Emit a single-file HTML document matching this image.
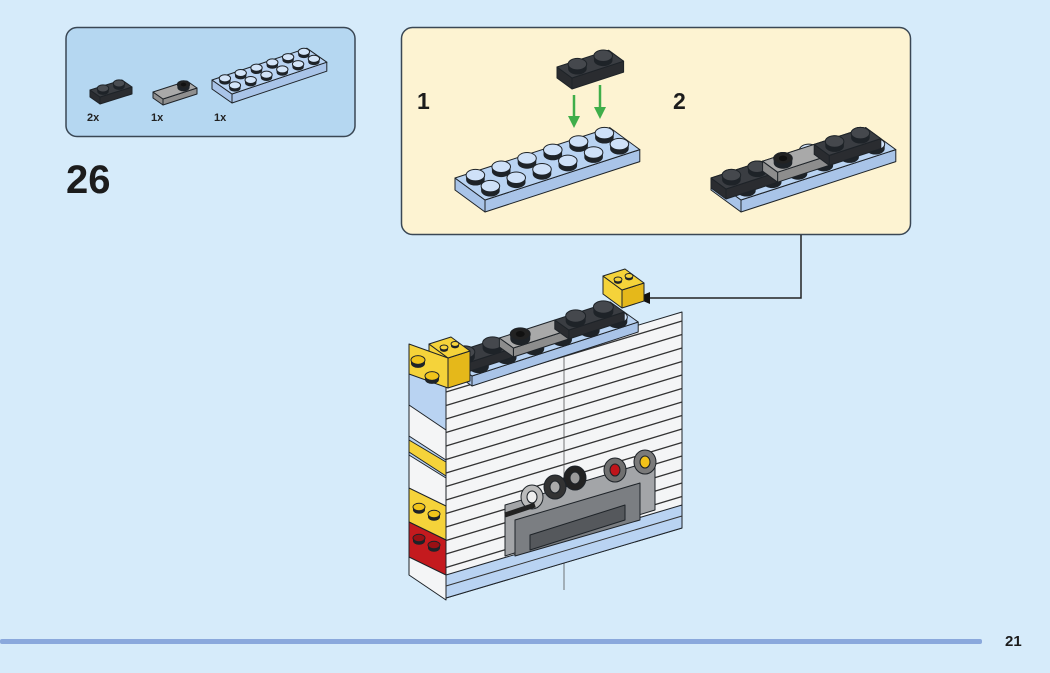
<!DOCTYPE html>
<html><head><meta charset="utf-8"><style>
html,body{margin:0;padding:0;background:#d6ebfa;}
body{width:1050px;height:673px;overflow:hidden;position:relative;font-family:"Liberation Sans",sans-serif;}
svg{position:absolute;left:0;top:0}
</style></head><body>
<svg id="s" width="1050" height="673" viewBox="0 0 1050 673" xmlns="http://www.w3.org/2000/svg">
<rect x="0" y="0" width="1050" height="673" fill="#d6ebfa"/>
<rect x="66" y="27.5" width="289" height="109" rx="11" fill="#b5d7f1" stroke="#3a4754" stroke-width="1.5"/>
<text x="87" y="121" font-size="11" font-weight="bold" fill="#222">2x</text>
<text x="151" y="121" font-size="11" font-weight="bold" fill="#222">1x</text>
<text x="214" y="121" font-size="11" font-weight="bold" fill="#222">1x</text>
<text x="66" y="193" font-size="40" font-weight="bold" fill="#1c1c1c">26</text>
<rect x="401.5" y="27.5" width="509" height="207" rx="11" fill="#fdf3d2" stroke="#3a4754" stroke-width="1.5"/>
<text x="417" y="109" font-size="23" font-weight="bold" fill="#1c1c1c">1</text>
<text x="673" y="109" font-size="23" font-weight="bold" fill="#1c1c1c">2</text>
<polyline points="801,235 801,298 648,298" fill="none" stroke="#222" stroke-width="1.5"/>
<polygon points="636,298 650,292 650,304" fill="#111"/>
<rect x="0" y="639" width="982" height="5" rx="2" fill="#8aa8dc"/>
<text x="1005" y="646" font-size="15" font-weight="bold" fill="#1c1c1c">21</text>
<g id="g"></g>
</svg>
<script>
var g=document.getElementById('g'),h='';
function P(pts,f,sw){h+='<polygon points="'+pts.map(function(p){return p[0].toFixed(1)+','+p[1].toFixed(1)}).join(' ')+'" fill="'+f+'" stroke="#1e2328" stroke-width="'+(sw===undefined?1:sw)+'" stroke-linejoin="round"/>';}
function L(a,b,c,w){h+='<line x1="'+a[0]+'" y1="'+a[1]+'" x2="'+b[0]+'" y2="'+b[1]+'" stroke="'+(c||'#333')+'" stroke-width="'+(w||1)+'"/>';}
function stud(x,y,r,top,hole){
  var hh=r*0.5;
  h+='<path d="M'+(x-r)+','+y+' v'+hh+' a'+r+','+(r*0.62)+' 0 0 0 '+(2*r)+',0 v'+(-hh)+'" fill="#1e2328"/>';
  h+='<ellipse cx="'+x+'" cy="'+y+'" rx="'+r+'" ry="'+(r*0.62)+'" fill="'+top+'" stroke="#1e2328" stroke-width="1"/>';
  if(hole)h+='<ellipse cx="'+x+'" cy="'+y+'" rx="'+(r*0.45)+'" ry="'+(r*0.3)+'" fill="#111"/>';
}
function brick(o,u,v,n,m,t,top,front,side,studCol,studs,hole){
  var A=o,B=[o[0]+u[0]*n,o[1]+u[1]*n],C=[B[0]+v[0]*m,B[1]+v[1]*m],D=[o[0]+v[0]*m,o[1]+v[1]*m];
  P([A,B,[B[0],B[1]+t],[A[0],A[1]+t]],front);
  P([D,A,[A[0],A[1]+t],[D[0],D[1]+t]],side);
  P([A,B,C,D],top);
  if(studs===false)return;
  var r=Math.abs(u[0])*0.36;
  for(var j=m-1;j>=0;j--)for(var i=0;i<n;i++){
    if(studs&&studs.indexOf(i+','+j)<0)continue;
    var x=o[0]+u[0]*(i+.5)+v[0]*(j+.5),y=o[1]+u[1]*(i+.5)+v[1]*(j+.5)-r*0.45;
    stud(x,y,r,studCol||top,hole);
  }
}
var LB='#b9d3f2',LBs='#a9c4e8',DK='#3a3d42',DKf='#2a2c30',GR='#a9a9a9',YE='#f5d33a',YEs='#e5b81a',WH='#f4f5f6';
// parts
brick([100,97],[16,-5],[-10,-7],2,1,7,DK,DKf,DKf,'#4a4d52');
brick([163,99],[17,-5.5],[-10,-7],2,1,6,GR,'#8f8f8f','#8f8f8f','#222',['1,0'],true);
brick([232,94],[15.8,-5.3],[-10,-7],6,2,9,LB,LBs,LBs,'#d3e4f8');
// step1
var u1=[25.8,-8.4],v1=[-15,-11];
brick([485,200],u1,v1,6,2,12,LB,LBs,LBs,'#cfe1f8');
brick([572,78],u1,v1,2,1,11,DK,DKf,DKf,'#45484d');
L([574,95],[574,122],'#3fae4a',2.5);L([600,85],[600,113],'#3fae4a',2.5);
P([[568,116],[580,116],[574,128]],'#3fae4a',0);P([[594,107],[606,107],[600,119]],'#3fae4a',0);
// step2
brick([741,200],u1,v1,6,2,12,LB,LBs,LBs,'#cfe1f8');
var o2=[741+v1[0],200+v1[1]];
brick(o2,u1,v1,2,1,10,DK,DKf,DKf,'#45484d');
brick([o2[0]+u1[0]*2,o2[1]+u1[1]*2],u1,v1,2,1,10,GR,'#8d8d8d','#8d8d8d','#222',['0,0'],true);
brick([o2[0]+u1[0]*4,o2[1]+u1[1]*4],u1,v1,2,1,10,DK,DKf,DKf,'#45484d');
// ===== main model =====
P([[409,345],[446,372],[446,596],[409,570]],LB);
P([[409,405],[446,430],[446,460],[409,436]],WH);
P([[409,440],[446,462],[446,476],[409,452]],YE);
P([[409,455],[446,478],[446,600],[409,575]],WH);
P([[446,383],[682,312],[682,528],[446,598]],WH);
for(var k=0;k<15;k++){var y=392+k*13.5;L([446,y],[682,y-71],'#333',1.3);}
L([564,350],[564,590],'#555',0.8);
P([[446,575],[682,505],[682,528],[446,598]],LB);
L([446,586],[682,516],'#333',1);
// cavity
P([[505,505],[655,460],[655,510],[505,556]],'#a3a5a8');
P([[515,520],[640,483],[640,520],[515,556]],'#7b7e82');
P([[530,535],[625,505],[625,520],[530,550]],'#55585c');
[[615,470,'#707070','#c0141a'],[645,462,'#7a7a7a','#f2c21a'],[575,478,'#222','#9a9a9a'],[555,487,'#333','#aaa'],[532,497,'#bbb','#eee']].forEach(function(c){
 h+='<ellipse cx="'+c[0]+'" cy="'+c[1]+'" rx="11" ry="12" fill="'+c[2]+'" stroke="#1e2328"/>';
 h+='<ellipse cx="'+c[0]+'" cy="'+c[1]+'" rx="5" ry="6" fill="'+c[3]+'" stroke="#1e2328"/>';});
L([505,515],[535,505],'#222',5);
// top plates
var u=[27.7,-9],v=[-14,-10];
brick([472,376],u,v,6,1,10,LB,LBs,LBs,'#cfe1f8');
var o=[472+v[0],376+v[1]];
brick(o,u,v,2,1,9,DK,DKf,DKf,'#45484d');
brick([o[0]+u[0]*2,o[1]+u[1]*2],u,v,2,1,9,GR,'#8d8d8d','#8d8d8d','#222',['0,0'],true);
brick([o[0]+u[0]*4,o[1]+u[1]*4],u,v,2,1,9,DK,DKf,DKf,'#45484d');
// yellow bricks (bigger)
brick([448,358],[11,-3.5],[-19,-14],2,1,30,YE,YEs,YE,YE);
P([[409,344],[448,358],[448,388],[409,374]],YE);
stud(418,360,7,'#f0c41a');stud(432,376,7,'#f0c41a');
brick([622,290],[11,-3.5],[-19,-14],2,1,18,YE,YEs,YE,YE);
// bottom-left yellow/red
P([[409,488],[446,506],[446,540],[409,522]],YE);
P([[409,522],[446,540],[446,575],[409,557]],'#c41a1e');
stud(419,507,6,'#f0c41a');stud(434,514,6,'#f0c41a');
stud(419,538,6,'#9a1014');stud(434,545,6,'#9a1014');
g.innerHTML=h;
</script>
</body></html>
